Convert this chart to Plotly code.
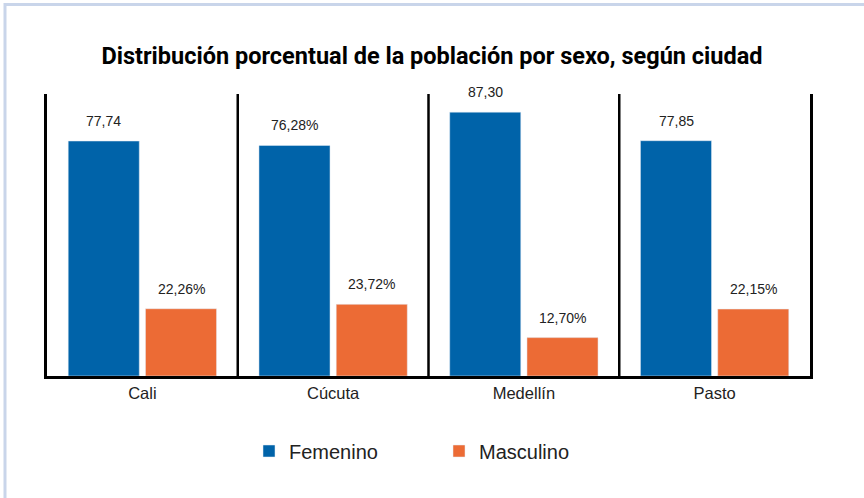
import plotly.graph_objects as go

cities = ["Cali", "Cúcuta", "Medellín", "Pasto"]
femenino = [77.74, 76.28, 87.30, 77.85]
masculino = [22.26, 23.72, 12.70, 22.15]
fem_suffix = ["", "%", "", ""]
mas_suffix = ["%", "%", "%", "%"]

BLUE = "#0063A9"
ORANGE = "#EC6B35"

W, H = 864, 498
L, R, T, B = 47, 54, 94, 122
pw, ph = W - L - R, H - T - B


def px_x(p):
    return (p - L) / pw


def px_y(p):
    return (H - B - p) / ph


def fmt(v, s):
    return f"{v:.2f}".replace(".", ",") + s


bargap = 0.19
fig = go.Figure()
fig.add_trace(go.Bar(name="Femenino", x=cities, y=femenino, marker_color=BLUE, hoverinfo="skip"))
fig.add_trace(go.Bar(name="Masculino", x=cities, y=masculino, marker_color=ORANGE, hoverinfo="skip"))

label_font = dict(family="Liberation Sans, Arial", size=14, color="#222222")
off = (1 - bargap) / 4
for i, c in enumerate(cities):
    fig.add_annotation(x=i - off, y=femenino[i], text=fmt(femenino[i], fem_suffix[i]),
                       showarrow=False, yanchor="middle", yshift=20, font=label_font)
    fig.add_annotation(x=i + off, y=masculino[i], text=fmt(masculino[i], mas_suffix[i]),
                       showarrow=False, yanchor="middle", yshift=20, font=label_font)

for k in range(1, len(cities)):
    fig.add_shape(type="line", xref="x", yref="paper", x0=k - 0.5, x1=k - 0.5, y0=0, y1=1,
                  line=dict(color="black", width=2.5))

# outer frame (only top/left visible)
fig.add_shape(type="rect", xref="paper", yref="paper",
              x0=px_x(5), x1=px_x(900), y0=px_y(4.5), y1=px_y(540),
              line=dict(color="#C9D5EA", width=3), layer="below")

fig.update_layout(
    width=W, height=H,
    margin=dict(l=L, r=R, t=T, b=B),
    paper_bgcolor="white", plot_bgcolor="white",
    barmode="group", bargap=bargap, bargroupgap=0.08,
    title=dict(text="<b>Distribución porcentual de la población por sexo, según ciudad</b>",
               x=0.5, xanchor="center", y=1 - 56 / H, yanchor="middle",
               font=dict(family="Roboto, Arial", size=23.5, color="black")),
    xaxis=dict(showline=True, linecolor="black", linewidth=2.5, ticks="", showgrid=False,
               tickfont=dict(family="Liberation Sans, Arial", size=16.5, color="#222222")),
    yaxis=dict(range=[0, 93.3], showline=True, mirror=True, linecolor="black", linewidth=2.5,
               showticklabels=False, ticks="", showgrid=False, zeroline=False),
    showlegend=True,
    legend=dict(orientation="h", x=px_x(249), xanchor="left", y=px_y(451), yanchor="middle",
                font=dict(family="Liberation Sans, Arial", size=20, color="#222222"),
                entrywidth=145, entrywidthmode="pixels", traceorder="normal"),
)

fig.write_html("out.html", config={"displayModeBar": False},
               post_script="document.body.style.margin='0';document.body.style.overflow='hidden';")
